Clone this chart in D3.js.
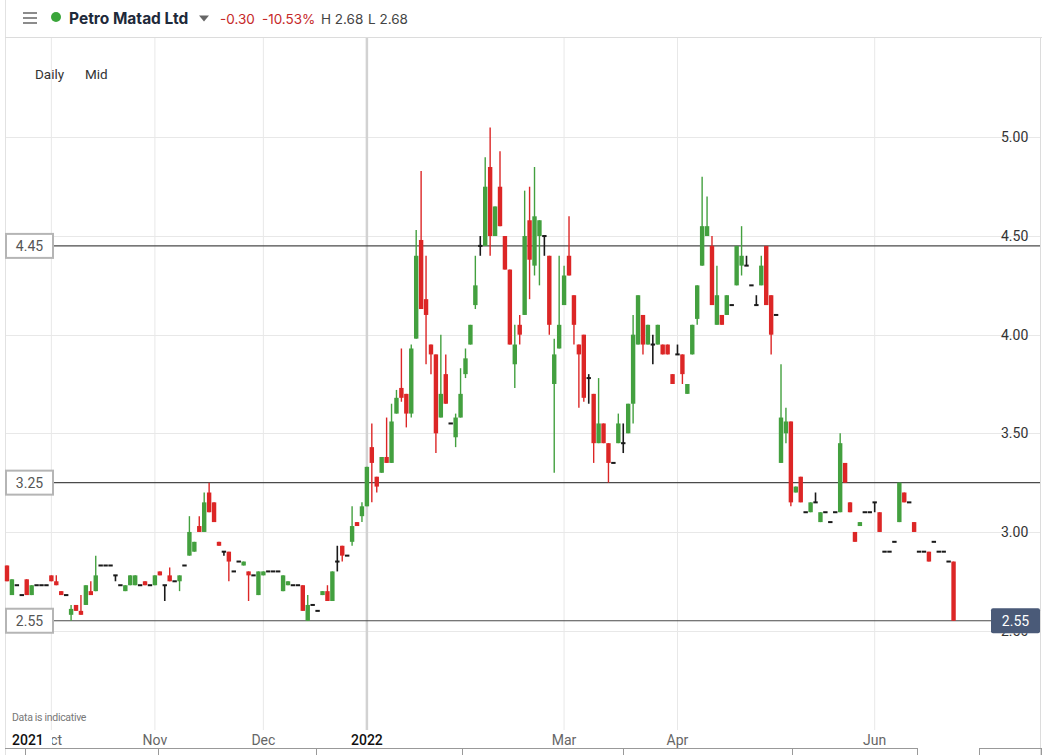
<!DOCTYPE html>
<html><head><meta charset="utf-8">
<script src="https://cdnjs.cloudflare.com/ajax/libs/d3/7.8.5/d3.min.js"></script>
<style>body{margin:0;background:#fff}svg{display:block}</style>
</head><body><svg id="c" width="1042" height="755"></svg>
<script>
// ---- DATA (daily candles, index = trading day from 20 Sep 2021) ----
const openV = [
2.83,2.68,2.73,2.68,2.76,2.68,2.73,2.73,2.73,2.78,
2.75,2.70,2.68,2.58,2.63,2.60,2.63,2.70,2.70,2.83,
2.83,2.83,2.78,2.73,2.70,2.73,2.73,2.73,2.75,2.73,
2.73,2.80,2.73,2.78,2.75,2.75,2.83,2.88,2.90,3.03,
3.00,3.20,3.15,2.95,2.90,2.90,2.80,2.85,2.83,2.80,
2.78,2.68,2.78,2.80,2.80,2.80,2.70,2.73,2.73,2.73,
2.73,2.55,2.63,2.60,2.68,2.70,2.65,2.85,2.93,2.88,
2.95,3.05,3.08,3.13,3.43,3.28,3.30,3.38,3.35,3.60,
3.73,3.70,3.60,3.98,4.48,4.18,3.95,3.90,3.58,3.80,
3.55,3.48,3.58,3.80,3.95,4.15,4.45,4.45,4.85,4.50,
4.75,4.50,4.33,3.85,4.05,4.10,4.58,4.35,4.50,4.50,
4.40,3.75,3.93,4.15,4.40,4.20,3.95,4.00,3.78,3.70,
3.45,3.55,3.45,3.35,3.45,3.45,3.50,3.65,3.95,4.10,
3.95,3.95,3.95,3.95,3.95,3.80,3.90,3.90,3.70,3.90,
4.08,4.35,4.50,4.45,4.05,4.10,4.10,4.15,4.25,4.35,
4.35,4.25,4.15,4.25,4.45,4.20,4.10,3.35,3.50,3.56,
3.20,3.28,3.10,3.10,3.15,3.05,3.10,3.05,3.10,3.10,
3.35,3.15,3.00,3.03,3.10,3.10,3.15,3.10,2.90,2.90,
2.95,3.05,3.20,3.15,3.05,2.90,2.90,2.90,2.95,2.90,
2.90,2.85,2.85];
const highV = [
2.83,2.76,2.73,2.68,2.76,2.73,2.73,2.73,2.73,2.78,
2.78,2.70,2.68,2.63,2.63,2.68,2.73,2.75,2.88,2.83,
2.83,2.83,2.78,2.73,2.73,2.78,2.78,2.73,2.75,2.73,
2.78,2.80,2.73,2.82,2.75,2.78,2.83,3.08,2.95,3.08,
3.20,3.25,3.15,2.95,2.90,2.90,2.80,2.85,2.85,2.80,
2.78,2.80,2.80,2.80,2.80,2.80,2.78,2.75,2.73,2.73,
2.73,2.68,2.63,2.60,2.70,2.73,2.80,2.93,2.93,2.88,
3.13,3.05,3.15,3.33,3.55,3.28,3.38,3.58,3.65,3.72,
3.93,3.70,3.95,4.53,4.83,4.40,3.95,3.90,4.00,3.90,
3.55,3.60,3.83,3.93,4.05,4.40,4.50,4.90,5.05,4.65,
4.93,4.50,4.33,4.05,4.10,4.73,4.75,4.85,4.58,4.50,
4.40,3.98,4.40,4.35,4.60,4.20,3.95,4.00,3.80,3.70,
3.78,3.55,3.45,3.35,3.60,3.55,3.65,4.10,4.20,4.10,
4.05,4.00,4.05,3.95,3.95,3.80,3.95,3.90,3.75,4.05,
4.25,4.80,4.70,4.50,4.35,4.10,4.20,4.15,4.45,4.55,
4.40,4.25,4.20,4.40,4.45,4.20,4.10,3.85,3.63,3.56,
3.23,3.28,3.10,3.15,3.20,3.10,3.10,3.05,3.10,3.50,
3.35,3.15,3.00,3.05,3.10,3.10,3.15,3.10,2.90,2.90,
2.95,3.25,3.20,3.15,3.05,2.90,2.90,2.90,2.95,2.90,
2.90,2.85,2.85];
const lowV = [
2.75,2.68,2.73,2.68,2.68,2.68,2.73,2.73,2.73,2.75,
2.73,2.68,2.68,2.55,2.60,2.58,2.63,2.68,2.70,2.83,
2.83,2.83,2.75,2.73,2.70,2.73,2.73,2.73,2.73,2.73,
2.73,2.78,2.65,2.75,2.75,2.70,2.83,2.88,2.90,3.00,
3.00,3.10,3.05,2.93,2.88,2.75,2.80,2.85,2.83,2.65,
2.78,2.68,2.78,2.80,2.80,2.80,2.70,2.73,2.73,2.73,
2.60,2.55,2.63,2.60,2.68,2.65,2.65,2.80,2.85,2.88,
2.93,3.03,3.05,3.13,3.15,3.20,3.30,3.35,3.35,3.60,
3.66,3.53,3.58,3.98,4.13,3.85,3.80,3.40,3.58,3.65,
3.55,3.43,3.58,3.78,3.95,4.13,4.40,4.45,4.40,4.50,
4.55,4.33,3.95,3.73,3.95,4.10,4.18,4.30,4.25,4.40,
4.00,3.30,3.93,4.15,4.30,3.95,3.63,3.66,3.65,3.35,
3.45,3.45,3.25,3.35,3.45,3.40,3.50,3.55,3.95,3.90,
3.95,3.85,3.95,3.90,3.90,3.75,3.90,3.75,3.70,3.90,
4.05,4.35,4.50,4.15,4.05,4.05,4.10,4.15,4.25,4.30,
4.35,4.25,4.15,4.25,4.15,3.90,4.10,3.35,3.45,3.13,
3.20,3.15,3.10,3.10,3.15,3.05,3.10,3.05,3.10,3.10,
3.25,3.10,2.95,3.03,3.10,3.10,3.10,3.00,2.90,2.90,
2.95,3.05,3.15,3.15,3.00,2.90,2.90,2.85,2.95,2.90,
2.90,2.85,2.55];
const closeV = [
2.75,2.76,2.73,2.68,2.68,2.73,2.73,2.73,2.73,2.75,
2.73,2.68,2.68,2.61,2.60,2.58,2.73,2.68,2.78,2.83,
2.83,2.83,2.78,2.73,2.73,2.78,2.78,2.73,2.73,2.73,
2.78,2.78,2.73,2.75,2.75,2.78,2.83,3.00,2.95,3.00,
3.15,3.10,3.05,2.93,2.90,2.85,2.80,2.85,2.85,2.78,
2.78,2.80,2.80,2.80,2.80,2.80,2.78,2.75,2.73,2.73,
2.60,2.63,2.63,2.60,2.70,2.65,2.80,2.85,2.88,2.88,
3.03,3.03,3.13,3.33,3.35,3.23,3.38,3.35,3.56,3.68,
3.68,3.60,3.93,4.40,4.13,4.10,3.90,3.50,3.70,3.65,
3.55,3.58,3.70,3.88,4.05,4.25,4.45,4.75,4.50,4.65,
4.55,4.33,3.95,3.95,4.00,4.50,4.38,4.60,4.58,4.50,
4.05,3.90,4.05,4.30,4.30,4.05,3.90,3.68,3.78,3.45,
3.55,3.45,3.35,3.35,3.55,3.45,3.65,4.00,4.20,3.95,
4.05,3.95,4.05,3.90,3.90,3.75,3.90,3.80,3.75,4.05,
4.25,4.55,4.55,4.15,4.20,4.05,4.20,4.15,4.45,4.40,
4.35,4.25,4.15,4.35,4.15,4.00,4.10,3.58,3.56,3.15,
3.23,3.15,3.10,3.15,3.15,3.10,3.10,3.05,3.10,3.45,
3.25,3.10,2.95,3.05,3.10,3.10,3.15,3.00,2.90,2.90,
2.95,3.25,3.15,3.15,3.00,2.90,2.90,2.85,2.95,2.90,
2.90,2.85,2.55];
const monthTickIdx = [9, 30, 52, 73, 113, 136, 176];
const monthTickLabels = ["Oct", "Nov", "Dec", "2022", "Mar", "Apr", "Jun"];
const yearTickLabels = ["2022"];
const priceTicks = [2.5, 3.0, 3.5, 4.0, 4.5, 5.0];
const levelLines = [4.45, 3.25, 2.55];
const lastPrice = 2.55;
const header = {name: "Petro Matad Ltd", chg: "-0.30", pct: "-10.53%", hi: "H 2.68", lo: "L 2.68"};

// ---- SCALES ----
const svg = d3.select("#c");
const x = d3.scaleLinear().domain([0, openV.length - 1]).range([7, 7 + 4.93 * (openV.length - 1)]);
const y = d3.scaleLinear().domain([2.5, 5.0]).range([630.6, 137.4]);
const GREEN = "#43a03f", RED = "#dc2626", DOJI = "#1a1a1a";
const FONT = "Roboto, 'Open Sans', sans-serif";
const HFONT = "Inter, 'Open Sans', sans-serif";

// frame
svg.append("rect").attr("width", 1042).attr("height", 755).attr("fill", "#fff");
svg.append("line").attr("x1", 5.5).attr("x2", 5.5).attr("y1", 0).attr("y2", 755).attr("stroke", "#e2e2e2");
svg.append("line").attr("x1", 5).attr("x2", 1042).attr("y1", 37.5).attr("y2", 37.5).attr("stroke", "#dcdcdc");
svg.append("line").attr("x1", 1040.5).attr("x2", 1040.5).attr("y1", 38).attr("y2", 755).attr("stroke", "#dcdcdc");

// horizontal grid
svg.append("g").selectAll("line").data(priceTicks).join("line")
  .attr("x1", 6).attr("x2", 1040).attr("y1", d => Math.round(y(d)) + 0.5).attr("y2", d => Math.round(y(d)) + 0.5)
  .attr("stroke", "#e8e8e8");

// vertical grid
svg.append("g").selectAll("line").data(monthTickIdx).join("line")
  .attr("x1", d => x(d)).attr("x2", d => x(d)).attr("y1", 38).attr("y2", 730)
  .attr("stroke", (d, i) => yearTickLabels.includes(monthTickLabels[i]) ? "#d2d2d2" : "#e8e8e8")
  .attr("stroke-width", (d, i) => yearTickLabels.includes(monthTickLabels[i]) ? 2.5 : 1);

// level lines
svg.append("g").selectAll("line").data(levelLines).join("line")
  .attr("x1", 53).attr("x2", d => d === lastPrice ? 992 : 1040)
  .attr("y1", d => y(d)).attr("y2", d => y(d))
  .attr("stroke", "#4a4a4a").attr("stroke-width", 1.2);

// candles
const data = openV.map((o, i) => ({i, o, h: highV[i], l: lowV[i], c: closeV[i]}));
const col = d => d.c > d.o ? GREEN : d.c < d.o ? RED : DOJI;
const bw = 4.4;
const cg = svg.append("g");
cg.selectAll("line").data(data.filter(d => d.h > d.l)).join("line")
  .attr("x1", d => x(d.i)).attr("x2", d => x(d.i))
  .attr("y1", d => y(d.h)).attr("y2", d => y(d.l))
  .attr("stroke", col).attr("stroke-width", d => d.c === d.o ? 1.6 : 1.4);
cg.selectAll("rect").data(data).join("rect")
  .attr("x", d => x(d.i) - bw / 2)
  .attr("y", d => d.c === d.o ? y(d.o) - 1 : y(Math.max(d.o, d.c)))
  .attr("width", bw)
  .attr("height", d => d.c === d.o ? 2 : Math.max(1.5, y(Math.min(d.o, d.c)) - y(Math.max(d.o, d.c))))
  .attr("fill", col);

// right axis labels (the 2.50 label sits mostly behind the last-price tag, as in the original)
svg.append("defs").append("clipPath").attr("id", "below").append("rect")
  .attr("x", 990).attr("y", y(lastPrice) + 12.5).attr("width", 52).attr("height", 20);
svg.append("g").selectAll("text").data(priceTicks).join("text")
  .attr("x", 1001).attr("y", d => y(d)).attr("dy", "0.35em")
  .attr("clip-path", d => d === 2.5 ? "url(#below)" : null)
  .attr("font-family", FONT).attr("font-size", 14).attr("fill", "#333")
  .text(d => d.toFixed(2));
// last price tag
svg.append("rect").attr("x", 991).attr("y", y(lastPrice) - 12.5).attr("width", 49).attr("height", 25)
  .attr("rx", 2).attr("fill", "#4a5a78");
svg.append("text").attr("x", 1015.5).attr("y", y(lastPrice)).attr("dy", "0.35em").attr("text-anchor", "middle")
  .attr("font-family", FONT).attr("font-size", 14).attr("fill", "#fff").text(lastPrice.toFixed(2));

// left level tags
const lt = svg.append("g").selectAll("g").data(levelLines).join("g");
lt.append("rect").attr("x", 6).attr("y", d => y(d) - 12).attr("width", 47).attr("height", 24)
  .attr("fill", "#fff").attr("stroke", "#b5b5b5").attr("stroke-width", 2);
lt.append("text").attr("x", 29.5).attr("y", d => y(d)).attr("dy", "0.35em").attr("text-anchor", "middle")
  .attr("font-family", FONT).attr("font-size", 14).attr("fill", "#555").text(d => d.toFixed(2));

// bottom axis ("Oct" is partly hidden behind the sticky "2021" label, as in the original)
svg.append("defs").append("clipPath").attr("id", "octclip").append("rect")
  .attr("x", 52).attr("y", 725).attr("width", 30).attr("height", 25);
svg.append("g").selectAll("text").data(monthTickIdx).join("text")
  .attr("x", d => x(d)).attr("y", 745).attr("text-anchor", "middle")
  .attr("clip-path", (d, i) => i === 0 ? "url(#octclip)" : null)
  .attr("font-family", FONT).attr("font-size", 14)
  .attr("fill", (d, i) => yearTickLabels.includes(monthTickLabels[i]) ? "#111" : "#666")
  .attr("font-weight", (d, i) => yearTickLabels.includes(monthTickLabels[i]) ? 500 : 400)
  .text((d, i) => monthTickLabels[i]);
svg.append("text").attr("x", 12).attr("y", 745).attr("font-family", FONT).attr("font-size", 14)
  .attr("font-weight", 500).attr("fill", "#111").text("2021");
svg.append("text").attr("x", 12).attr("y", 721).attr("font-family", FONT).attr("font-size", 10.5)
  .attr("fill", "#777").attr("letter-spacing", -0.3).text("Data is indicative");
// navigator strip
svg.append("line").attr("x1", 5).attr("x2", 918).attr("y1", 748.5).attr("y2", 748.5).attr("stroke", "#999");
svg.append("g").selectAll("line").data([25, 158, 316, 462, 623, 792, 917]).join("line")
  .attr("x1", d => d + 0.5).attr("x2", d => d + 0.5).attr("y1", 748).attr("y2", 755).attr("stroke", "#999");
svg.append("rect").attr("x", 979.5).attr("y", 748.5).attr("width", 62).attr("height", 8).attr("fill", "none").attr("stroke", "#999");

// Daily / Mid
svg.append("text").attr("x", 35).attr("y", 79).attr("font-family", FONT).attr("font-size", 13.5).attr("fill", "#333").text("Daily");
svg.append("text").attr("x", 85).attr("y", 79).attr("font-family", FONT).attr("font-size", 13.5).attr("fill", "#333").text("Mid");

// header
const hg = svg.append("g");
[13, 18, 23].forEach(v => hg.append("line").attr("x1", 23).attr("x2", 37).attr("y1", v).attr("y2", v).attr("stroke", "#666").attr("stroke-width", 1.5));
hg.append("circle").attr("cx", 56).attr("cy", 17).attr("r", 5).attr("fill", "#3aa53a");
hg.append("text").attr("x", 69).attr("y", 23.5).attr("font-family", HFONT).attr("font-weight", 700)
  .attr("font-size", 15.5).attr("fill", "#1e2a3a").text(header.name);
hg.append("path").attr("d", "M199,15.5 L209,15.5 L204,21.5 Z").attr("fill", "#666");
const stats = [[header.chg, 220, "#c62828"], [header.pct, 262, "#c62828"], [header.hi, 321, "#444"], [header.lo, 368, "#444"]];
stats.forEach(s => hg.append("text").attr("x", s[1]).attr("y", 23.5).attr("font-family", HFONT)
  .attr("font-size", 13.5).attr("fill", s[2]).text(s[0]));
</script></body></html>
